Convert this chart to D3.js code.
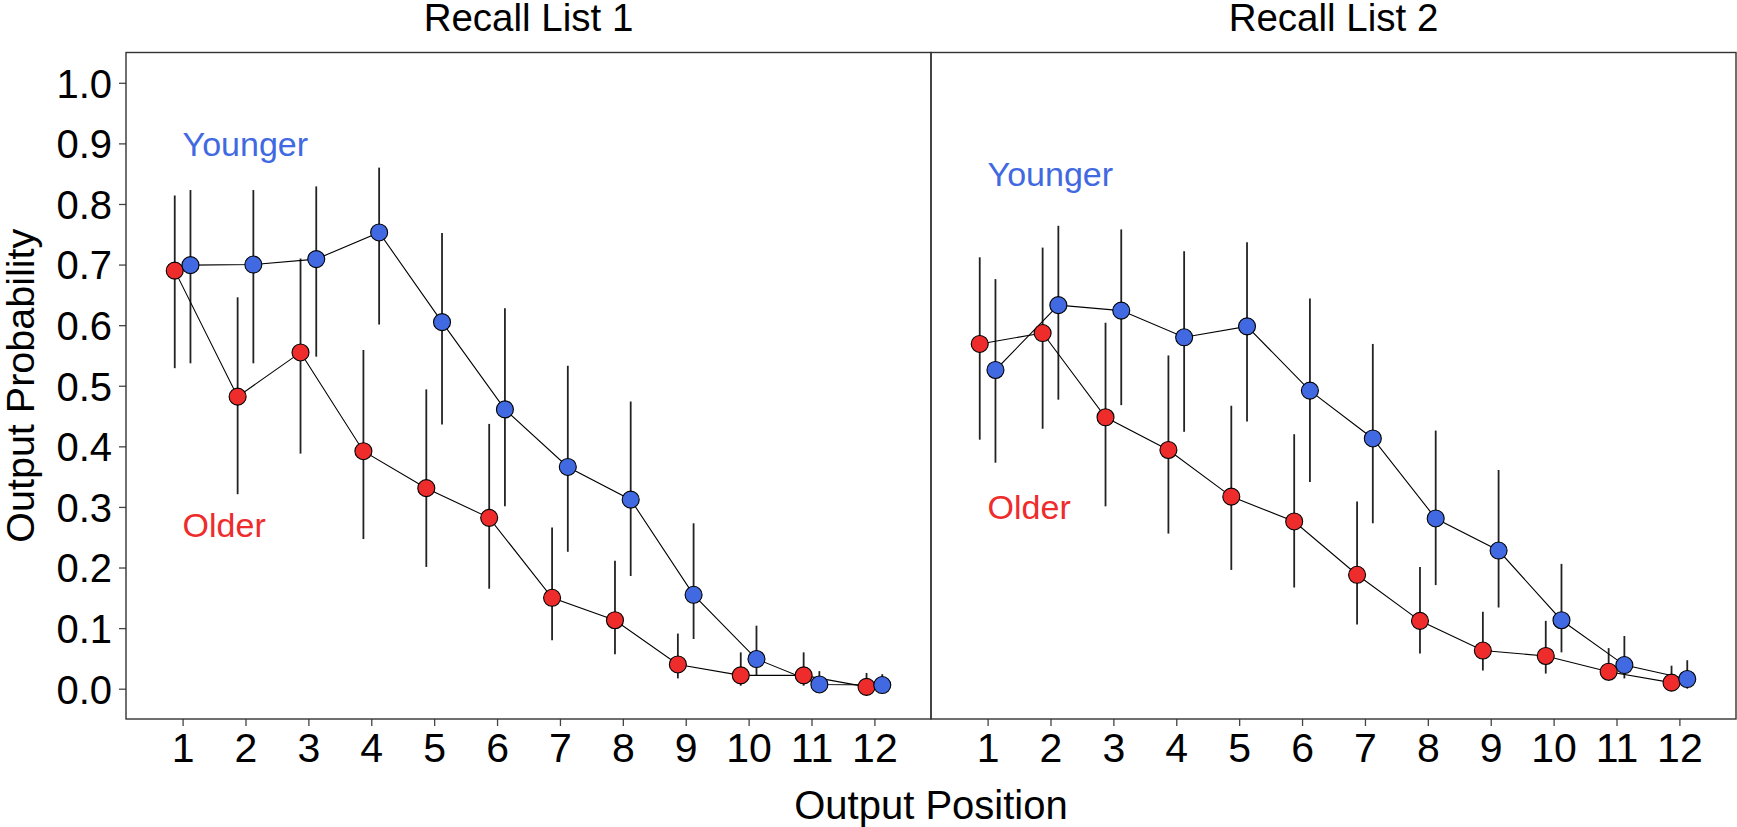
<!DOCTYPE html>
<html>
<head>
<meta charset="utf-8">
<script src="https://cdn.jsdelivr.net/npm/d3@7/dist/d3.min.js"></script>
<style>
  html, body { margin: 0; padding: 0; background: #fff; }
  svg { display: block; font-family: "Liberation Sans", Arial, sans-serif; }
</style>
</head>
<body>
<svg id="chart" width="1737" height="827"></svg>
<script>
// ---------- data ----------
const positions = [1, 2, 3, 4, 5, 6, 7, 8, 9, 10, 11, 12];
const panelTitles = ["Recall List 1", "Recall List 2"];
const groupNames = ["Older", "Younger"];
const yTicks = [0.0, 0.1, 0.2, 0.3, 0.4, 0.5, 0.6, 0.7, 0.8, 0.9, 1.0];

// Recall List 1
const older1   = [0.690, 0.482, 0.555, 0.392, 0.331, 0.282, 0.150, 0.113, 0.040, 0.022, 0.022, 0.003];
const older1Lo = [0.529, 0.321, 0.388, 0.247, 0.201, 0.165, 0.080, 0.057, 0.017, 0.005, 0.005, 0.000];
const older1Hi = [0.814, 0.646, 0.710, 0.559, 0.494, 0.437, 0.266, 0.211, 0.091, 0.060, 0.060, 0.026];
const younger1   = [0.699, 0.700, 0.709, 0.753, 0.605, 0.461, 0.366, 0.312, 0.155, 0.049, 0.007, 0.006];
const younger1Lo = [0.537, 0.537, 0.548, 0.601, 0.436, 0.301, 0.226, 0.186, 0.082, 0.022, 0.000, 0.000];
const younger1Hi = [0.823, 0.823, 0.829, 0.860, 0.752, 0.628, 0.533, 0.474, 0.273, 0.104, 0.029, 0.024];

// Recall List 2
const older2   = [0.569, 0.587, 0.448, 0.394, 0.317, 0.276, 0.188, 0.112, 0.063, 0.054, 0.028, 0.010];
const older2Lo = [0.411, 0.429, 0.301, 0.256, 0.196, 0.167, 0.106, 0.058, 0.030, 0.025, 0.013, 0.000];
const older2Hi = [0.712, 0.728, 0.604, 0.550, 0.467, 0.420, 0.309, 0.201, 0.127, 0.112, 0.067, 0.038];
const younger2   = [0.526, 0.633, 0.624, 0.580, 0.598, 0.492, 0.413, 0.281, 0.228, 0.113, 0.039, 0.016];
const younger2Lo = [0.373, 0.477, 0.468, 0.424, 0.441, 0.341, 0.273, 0.171, 0.134, 0.060, 0.017, 0.000];
const younger2Hi = [0.676, 0.764, 0.758, 0.722, 0.737, 0.644, 0.569, 0.426, 0.361, 0.206, 0.087, 0.047];

// text annotations (data coords: x position, y value at text middle)
const labelYounger = [0.90, 0.85];
const labelOlder   = [0.27, 0.30];

// ---------- layout ----------
const colors = { Older: "#ee2c2c", Younger: "#4169e1" };
const dodge = { Older: -0.125, Younger: 0.125 };
const plotTop = 52.5, plotBottom = 719;
const panelLefts = [126, 931];
const panelWidth = 805;

const panels = [
  { title: panelTitles[0], series: [
      { group: "Older", v: older1, lo: older1Lo, hi: older1Hi },
      { group: "Younger", v: younger1, lo: younger1Lo, hi: younger1Hi } ],
    ly: labelYounger[0], lo: labelOlder[0] },
  { title: panelTitles[1], series: [
      { group: "Older", v: older2, lo: older2Lo, hi: older2Hi },
      { group: "Younger", v: younger2, lo: younger2Lo, hi: younger2Hi } ],
    ly: labelYounger[1], lo: labelOlder[1] }
];

const svg = d3.select("#chart");
const y = d3.scaleLinear().domain([-0.05, 1.05]).range([plotBottom, plotTop]);

panels.forEach((p, i) => {
  const x = d3.scaleLinear().domain([0.1, 12.9])
    .range([panelLefts[i], panelLefts[i] + panelWidth]);
  const g = svg.append("g");

  // x axis
  const xAxis = g.append("g")
    .attr("transform", `translate(0,${plotBottom})`)
    .call(d3.axisBottom(x).tickValues(positions).tickFormat(d3.format("d"))
      .tickSizeInner(7).tickSizeOuter(0));
  xAxis.select(".domain").remove();
  xAxis.selectAll(".tick line").attr("stroke", "#444").attr("stroke-width", 1.3);
  xAxis.selectAll(".tick text").attr("fill", "#000")
    .attr("font-size", 41).attr("font-family", "Liberation Sans, Arial, sans-serif")
    .attr("dy", null).attr("y", 43);

  // y axis on first panel only
  if (i === 0) {
    const yAxis = g.append("g")
      .attr("transform", `translate(${panelLefts[0]},0)`)
      .call(d3.axisLeft(y).tickValues(yTicks).tickFormat(d3.format(".1f"))
        .tickSizeInner(7).tickSizeOuter(0));
    yAxis.select(".domain").remove();
    yAxis.selectAll(".tick line").attr("stroke", "#444").attr("stroke-width", 1.3);
    yAxis.selectAll(".tick text").attr("fill", "#000")
      .attr("font-size", 40).attr("font-family", "Liberation Sans, Arial, sans-serif")
      .attr("x", -14).attr("dy", "0.36em");
  }

  // panel border
  g.append("rect")
    .attr("x", x.range()[0]).attr("y", plotTop)
    .attr("width", panelWidth).attr("height", plotBottom - plotTop)
    .attr("fill", "none").attr("stroke", "#333").attr("stroke-width", 1.4);

  // title
  g.append("text")
    .attr("x", (x.range()[0] + x.range()[1]) / 2).attr("y", 31)
    .attr("text-anchor", "middle").attr("font-size", 38.5).attr("fill", "#000")
    .text(p.title);

  // error bars
  p.series.forEach(s => {
    g.append("g").selectAll("line")
      .data(positions.map((pos, k) => ({ pos, lo: s.lo[k], hi: s.hi[k] })))
      .join("line")
      .attr("x1", d => x(d.pos + dodge[s.group]))
      .attr("x2", d => x(d.pos + dodge[s.group]))
      .attr("y1", d => y(d.lo)).attr("y2", d => y(d.hi))
      .attr("stroke", "#222").attr("stroke-width", 1.8);
  });

  // lines
  const line = d3.line().x(d => x(d.pos)).y(d => y(d.v));
  p.series.forEach(s => {
    g.append("path")
      .datum(positions.map((pos, k) => ({ pos: pos + dodge[s.group], v: s.v[k] })))
      .attr("d", line).attr("fill", "none")
      .attr("stroke", "#000").attr("stroke-width", 1.1);
  });

  // points
  p.series.forEach(s => {
    g.append("g").selectAll("circle")
      .data(positions.map((pos, k) => ({ pos: pos + dodge[s.group], v: s.v[k] })))
      .join("circle")
      .attr("cx", d => x(d.pos)).attr("cy", d => y(d.v)).attr("r", 8.5)
      .attr("fill", colors[s.group]).attr("stroke", "#000").attr("stroke-width", 1.1);
  });

  // group annotations
  g.append("text")
    .attr("x", x(1)).attr("y", y(p.ly)).attr("dy", "0.36em")
    .attr("font-size", 34).attr("fill", colors.Younger).text(groupNames[1]);
  g.append("text")
    .attr("x", x(1)).attr("y", y(p.lo)).attr("dy", "0.36em")
    .attr("font-size", 34).attr("fill", colors.Older).text(groupNames[0]);
});

// axis titles
svg.append("text")
  .attr("x", (panelLefts[0] + panelLefts[1] + panelWidth) / 2).attr("y", 819)
  .attr("text-anchor", "middle").attr("font-size", 40).attr("fill", "#000")
  .text("Output Position");
svg.append("text")
  .attr("transform", `translate(34,${(plotTop + plotBottom) / 2}) rotate(-90)`)
  .attr("text-anchor", "middle").attr("font-size", 39.5).attr("fill", "#000")
  .text("Output Probability");
</script>
</body>
</html>
